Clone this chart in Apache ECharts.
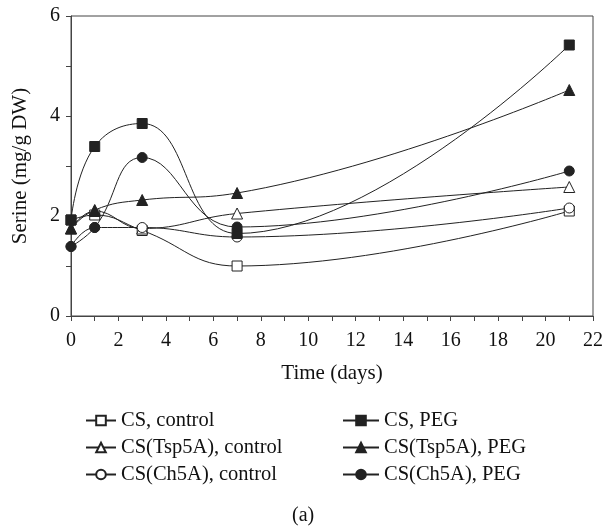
<!DOCTYPE html>
<html>
<head>
<meta charset="utf-8">
<script src="https://cdn.jsdelivr.net/npm/echarts@6/dist/echarts.min.js"></script>
<style>
  html, body { margin: 0; padding: 0; background: #fff; }
  #main { width: 606px; height: 527px; }
</style>
</head>
<body>
<div id="main"></div>
<script>
// sampling days
var days = [0, 1, 3, 7, 21];

// serine (mg/g DW)
var csControl = [1.92, 2.02, 1.71, 1.00, 2.10];
var tspControl = [1.75, 2.10, 1.75, 2.05, 2.58];
var ch5Control = [1.39, 1.77, 1.77, 1.58, 2.16];
var csPeg = [1.92, 3.39, 3.85, 1.65, 5.42];
var tspPeg = [1.75, 2.12, 2.32, 2.46, 4.52];
var ch5Peg = [1.39, 1.77, 3.17, 1.78, 2.90];

var seriesNames = ['CS, control', 'CS(Tsp5A), control', 'CS(Ch5A), control',
                   'CS, PEG', 'CS(Tsp5A), PEG', 'CS(Ch5A), PEG'];
var seriesValues = [csControl, tspControl, ch5Control, csPeg, tspPeg, ch5Peg];
var symbols = ['rect', 'triangle', 'circle', 'rect', 'triangle', 'circle'];
var filled = [false, false, false, true, true, true];

var font = 'Liberation Serif';
var ink = '#222';

var myChart = echarts.init(document.getElementById('main'));

var series = [];
for (var i = 0; i < seriesNames.length; i++) {
    var pts = [];
    for (var j = 0; j < days.length; j++) {
        pts.push([days[j], seriesValues[i][j]]);
    }
    series.push({
        name: seriesNames[i],
        type: 'line',
        smooth: 0.45,
        data: pts,
        symbol: symbols[i],
        symbolSize: symbols[i] === 'triangle' ? 11 : 10,
        showAllSymbol: true,
        lineStyle: { color: ink, width: 1 },
        itemStyle: {
            color: filled[i] ? ink : '#fff',
            borderColor: ink,
            borderWidth: 1
        },
        z: filled[i] ? 3 : 2
    });
}

var legendText = { fontFamily: font, fontSize: 20.5, color: '#111' };

var option = {
    animation: false,
    backgroundColor: '#fff',
    textStyle: { fontFamily: font },
    title: {
        text: '(a)',
        left: 287,
        top: 501,
        textStyle: { fontFamily: font, fontSize: 20, fontWeight: 'normal', color: '#111' }
    },
    legend: [
        {
            data: seriesNames.slice(0, 3),
            orient: 'vertical',
            left: 80,
            top: 405,
            itemWidth: 30,
            itemHeight: 12,
            itemGap: 6,
            textStyle: legendText
        },
        {
            data: seriesNames.slice(3),
            orient: 'vertical',
            left: 337,
            top: 405,
            itemWidth: 36,
            itemHeight: 12,
            itemGap: 6,
            textStyle: legendText
        }
    ],
    grid: {
        left: 71,
        right: 11,
        top: 16,
        bottom: 211,
        show: true,
        borderColor: '#444',
        borderWidth: 1
    },
    xAxis: {
        type: 'value',
        min: 0,
        max: 22,
        interval: 2,
        name: 'Time (days)',
        nameLocation: 'middle',
        nameGap: 47,
        nameTextStyle: { fontFamily: font, fontSize: 21, color: '#111' },
        axisLine: { show: true, lineStyle: { color: '#444', width: 1 } },
        axisTick: { show: true, length: 5, lineStyle: { color: '#444' } },
        minorTick: { show: true, splitNumber: 2, length: 5, lineStyle: { color: '#444' } },
        axisLabel: { fontFamily: font, fontSize: 20, color: '#111', margin: 15 },
        splitLine: { show: false }
    },
    yAxis: {
        type: 'value',
        min: 0,
        max: 6,
        interval: 2,
        name: 'Serine (mg/g DW)',
        nameLocation: 'middle',
        nameGap: 40,
        nameTextStyle: { fontFamily: font, fontSize: 21, color: '#111' },
        axisLine: { show: true, lineStyle: { color: '#444', width: 1 } },
        axisTick: { show: true, length: 5, lineStyle: { color: '#444' } },
        minorTick: { show: true, splitNumber: 2, length: 5, lineStyle: { color: '#444' } },
        axisLabel: { fontFamily: font, fontSize: 20, color: '#111', margin: 11 },
        splitLine: { show: false }
    },
    series: series
};

myChart.setOption(option);
</script>
</body>
</html>
